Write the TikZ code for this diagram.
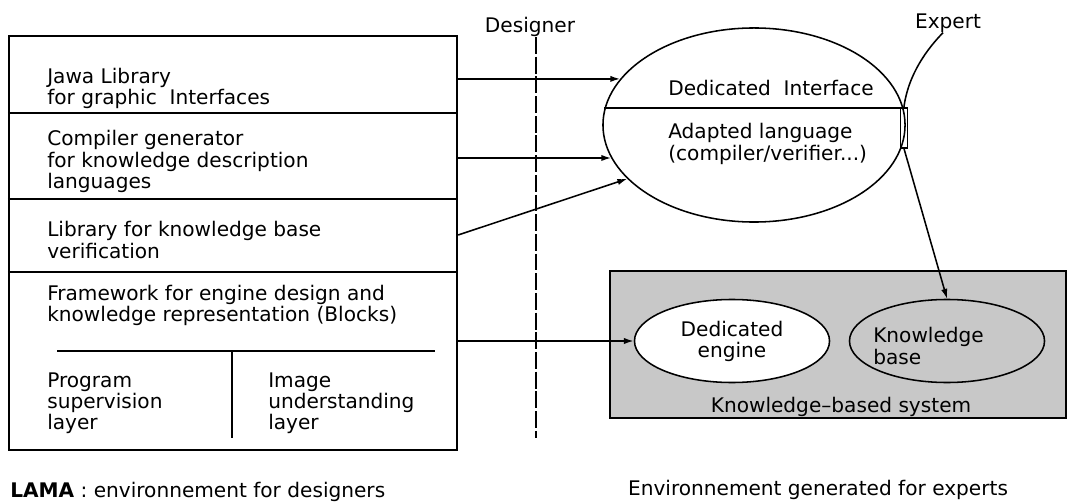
\documentclass[tikz,border=0pt]{standalone}
\usepackage{fontspec}
\setmainfont{DejaVu Sans}
\usetikzlibrary{positioning,calc,shapes.geometric,arrows.meta}
\definecolor{KbsGray}{RGB}{200,200,200}
\tikzset{
	txt/.style={inner sep=0pt,align=left,anchor=west,font=\fontsize{14.3}{15}\selectfont},
	boxline/.style={draw=black,line width=1.5pt,inner sep=0pt},
	oval/.style={ellipse,draw=black,line width=1.1pt,inner sep=0pt,align=center,
		font=\fontsize{14.3}{15}\selectfont},
	link/.style={draw=black,line width=1.1pt,-{Latex[length=7pt,width=4.5pt]}},
	lifeline/.style={draw=black,line width=1.1pt,dash pattern=on 12pt off 2pt},
}
\begin{document}
\begin{tikzpicture}[x=0.025cm,y=-0.025cm]
	\useasboundingbox (0,0) rectangle (1069,504);
	% LAMA side
	\node[boxline,minimum width=11.2cm,minimum height=10.35cm] (lama) at (233,243) {};
	\foreach \y in {113,199,272}
	\draw[line width=1.5pt] (lama.west |- 0,\y) -- (lama.east |- 0,\y);
	\draw[line width=1.3pt] (57,351) -- (435,351);
	\draw[line width=1.3pt] (232,351) -- (232,438);
	\node[txt] (jawa) at (47,88.5) {Jawa Library\\for graphic\ \ Interfaces};
	\node[txt] (comp) at (47,161.5) {Compiler generator\\for knowledge description\\languages};
	\node[txt] (libr) at (47,240) {Library for knowledge base\\verification};
	\node[txt] (fwk) at (47,305) {Framework for engine design and\\knowledge representation (Blocks)};
	\node[txt] (prog) at (47,403) {Program\\supervision\\layer};
	\node[txt] (imag) at (268,403) {Image\\understanding\\layer};
	\node[txt] (lamacap) at (10,492) {\textbf{LAMA} : environnement for designers};
	% designer
	\node[txt,anchor=center] (designer) at (530,27) {Designer};
	\coordinate (dbot) at (536,438);
	\draw[lifeline] (designer.south -| dbot) -- (dbot);
	% expert side
	\node[oval,minimum width=7.55cm,minimum height=4.85cm] (iface) at (754,125) {};
	\coordinate (kx) at ($(iface.east)+(-2,-17)$);
	\draw[line width=1.1pt] ($(iface.west)+(2,-17)$) -- (kx);
	\node[txt] (ded) at (668,88) {Dedicated\ \ Interface};
	\node[txt] (adapt) at (668,144) {Adapted language\\(compiler/verifier...)};
	\node[boxline,fill=KbsGray,minimum width=11.4cm,minimum height=3.675cm] (kbs) at (838,344.5) {};
	\node[oval,fill=white,minimum width=4.875cm,minimum height=2.075cm] (engine) at (732,341) {Dedicated\\engine};
	\node[oval,fill=KbsGray,minimum width=4.875cm,minimum height=2.075cm] (kb) at (947,341) {};
	\node[txt] (kbtxt) at (873,346) {Knowledge\\base};
	\node[txt,anchor=center] (kbscap) at (841,407) {Knowledge--based system};
	\node[txt,anchor=center] (expert) at (948,23) {Expert};
	\node[txt,anchor=center] (envcap) at (818,490) {Environnement generated for experts};
	% links
	\draw[link] (lama.east |- iface.161) -- (iface.161);
	\draw[link] (lama.east |- iface.193) -- (iface.193);
	\draw[link] ($(lama.east |- libr)+(0,-5)$) -- (iface.203);
	\draw[link] (lama.east |- engine.west) -- (engine.west);
	\draw[line width=1.1pt] ($(expert.south)+(-5,0)$) .. controls (928,48) and (908,74) .. (kx);
	\draw[line width=0.9pt] ($(kx)+(-3,0)$) rectangle ($(kx)+(4,40)$);
	\draw[link] ($(kx)+(0,40)$) -- (kb.north);
\end{tikzpicture}
\end{document}
